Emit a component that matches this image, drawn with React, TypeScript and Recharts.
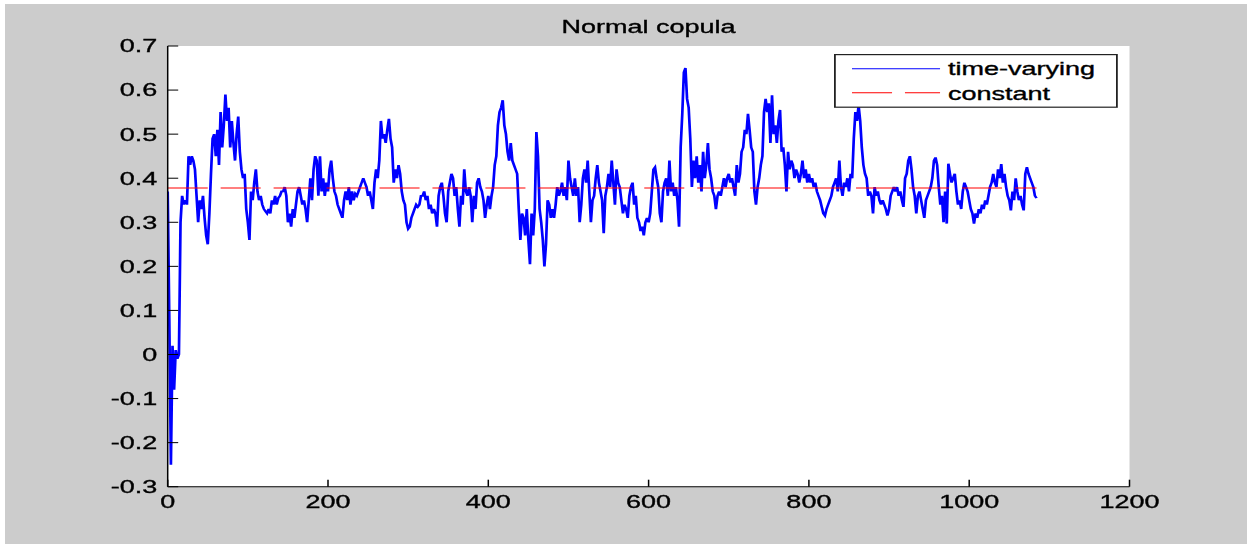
import React from 'react';
import { LineChart, Line, XAxis, YAxis, Legend } from 'recharts';

const title = 'Normal copula';
const seriesNames = ['time-varying', 'constant'];
const xTicks = [0, 200, 400, 600, 800, 1000, 1200];
const yTicks = [-0.3, -0.2, -0.1, 0, 0.1, 0.2, 0.3, 0.4, 0.5, 0.6, 0.7];
const yTickLabels = ['-0.3', '-0.2', '-0.1', '0', '0.1', '0.2', '0.3', '0.4', '0.5', '0.6', '0.7'];
const constantValue = 0.378;
const SAMPLE_STEP = 2;

const tvPart1 = [
  0.37, 0.08, -0.25, 0.02, -0.08, 0.01, -0.01, 0.0, 0.30, 0.36,
  0.34, 0.35, 0.34, 0.45, 0.43, 0.45, 0.44, 0.42, 0.36, 0.30,
  0.35, 0.33, 0.36, 0.31, 0.27, 0.25, 0.32, 0.41, 0.49, 0.50,
  0.45, 0.51, 0.43, 0.55, 0.47, 0.52, 0.59, 0.53, 0.56, 0.47,
  0.53, 0.48, 0.44, 0.50, 0.54, 0.46, 0.42, 0.40, 0.41, 0.33,
  0.30, 0.26, 0.37, 0.35, 0.39, 0.42, 0.37, 0.35, 0.36, 0.34,
  0.33, 0.325, 0.32, 0.33, 0.32, 0.35, 0.34, 0.36, 0.34, 0.355,
  0.36, 0.37, 0.37, 0.38, 0.36, 0.30, 0.32, 0.29, 0.33, 0.31,
  0.34, 0.37, 0.38, 0.36, 0.34, 0.35, 0.33, 0.30, 0.35, 0.40,
  0.35, 0.42, 0.45, 0.44, 0.36, 0.45,
];
const tvPart2 = [
  0.37, 0.40, 0.36, 0.39, 0.37, 0.42, 0.44, 0.40, 0.37, 0.36,
  0.34, 0.33, 0.32, 0.31, 0.35, 0.37, 0.35, 0.38, 0.34, 0.37,
  0.35, 0.365, 0.36, 0.37, 0.38, 0.39, 0.40, 0.39, 0.38, 0.36,
  0.37, 0.35, 0.33, 0.39, 0.42, 0.40, 0.44, 0.53, 0.49, 0.50,
  0.48, 0.51, 0.535, 0.49, 0.47, 0.39, 0.42, 0.40, 0.43, 0.41,
  0.37, 0.35, 0.34, 0.30, 0.285, 0.29, 0.31, 0.32, 0.33, 0.34,
  0.335, 0.34, 0.36, 0.36, 0.37, 0.35, 0.36, 0.33, 0.34,
  0.32, 0.33, 0.32, 0.29, 0.36, 0.38, 0.39, 0.36, 0.32, 0.30,
  0.37, 0.39, 0.41, 0.40, 0.36, 0.38, 0.33, 0.29, 0.36, 0.34,
  0.42, 0.37, 0.36, 0.38,
];
const tvPart3 = [
  0.36, 0.30, 0.36, 0.33, 0.39, 0.40, 0.38, 0.37, 0.35, 0.31,
  0.34, 0.36, 0.33, 0.36, 0.38, 0.43, 0.45, 0.52, 0.55, 0.56,
  0.577, 0.52, 0.50, 0.46, 0.44, 0.48, 0.44, 0.43, 0.42, 0.41,
  0.33, 0.26, 0.32, 0.31, 0.27, 0.33, 0.26, 0.205, 0.32, 0.27,
  0.33, 0.505, 0.45, 0.33, 0.30, 0.26, 0.20, 0.25, 0.35, 0.34,
  0.31, 0.33, 0.31, 0.34, 0.38, 0.36, 0.37, 0.39, 0.36, 0.38,
  0.35, 0.44, 0.40, 0.38, 0.36, 0.40, 0.36, 0.38, 0.30, 0.34,
  0.40, 0.42, 0.39, 0.44, 0.37, 0.30, 0.35, 0.36, 0.40, 0.43,
  0.39, 0.37, 0.35, 0.275, 0.36, 0.38, 0.41, 0.38, 0.44, 0.39,
  0.34, 0.42, 0.39, 0.38,
];
const tvPart4 = [
  0.35, 0.32, 0.34, 0.33, 0.31, 0.36, 0.38, 0.39, 0.34, 0.36,
  0.31, 0.30, 0.28, 0.29, 0.27, 0.30, 0.31, 0.30, 0.32, 0.37,
  0.42, 0.425, 0.40, 0.38, 0.32, 0.30, 0.37, 0.39, 0.40, 0.36,
  0.44, 0.37, 0.39, 0.36, 0.38, 0.35, 0.29, 0.47, 0.545, 0.64,
  0.65, 0.58, 0.56, 0.49, 0.38, 0.44, 0.40, 0.45, 0.39, 0.43,
  0.37, 0.46, 0.40, 0.43, 0.48, 0.42, 0.40, 0.37, 0.36, 0.33,
  0.36, 0.37, 0.36, 0.38, 0.40, 0.38, 0.40, 0.41, 0.39,
  0.40, 0.38, 0.36, 0.43, 0.39, 0.41, 0.46, 0.47, 0.51, 0.50,
  0.546, 0.51, 0.47, 0.46, 0.37, 0.34, 0.38, 0.40, 0.43, 0.45,
  0.55, 0.58, 0.55, 0.57,
];
const tvPart5 = [
  0.48, 0.588, 0.50, 0.52, 0.48, 0.53, 0.555, 0.46, 0.47, 0.43,
  0.37, 0.46, 0.42, 0.44, 0.43, 0.40, 0.42, 0.41, 0.39, 0.41,
  0.44, 0.40, 0.42, 0.39, 0.41, 0.39, 0.40, 0.38, 0.39, 0.37,
  0.36, 0.35, 0.335, 0.32, 0.315, 0.33, 0.34, 0.35, 0.36, 0.38,
  0.39, 0.40, 0.37, 0.44, 0.38, 0.36, 0.39, 0.38, 0.40, 0.37,
  0.41, 0.40, 0.49, 0.55, 0.53, 0.565, 0.53, 0.47, 0.43, 0.41,
  0.40, 0.36, 0.37, 0.36, 0.32, 0.38, 0.36, 0.37, 0.35, 0.34,
  0.35, 0.34, 0.33, 0.315, 0.33, 0.36, 0.37, 0.38, 0.37, 0.38,
  0.36, 0.37, 0.35, 0.335, 0.40, 0.41, 0.44, 0.45, 0.42, 0.38,
  0.36, 0.32, 0.36, 0.37,
];
const tvPart6 = [
  0.35, 0.33, 0.31, 0.35, 0.36, 0.37, 0.38, 0.40, 0.44, 0.447,
  0.43, 0.38, 0.34, 0.36, 0.30, 0.37, 0.297, 0.433, 0.41, 0.39,
  0.40, 0.41, 0.37, 0.34, 0.35, 0.33, 0.37, 0.39, 0.38,
  0.37, 0.35, 0.33, 0.32, 0.297, 0.32, 0.31, 0.33, 0.32, 0.34,
  0.33, 0.35, 0.34, 0.36, 0.38, 0.39, 0.41, 0.39, 0.38, 0.42,
  0.40, 0.432, 0.39, 0.41, 0.38, 0.36, 0.35, 0.327, 0.37, 0.35,
  0.40, 0.37, 0.35, 0.36, 0.34, 0.327, 0.41, 0.425, 0.41, 0.40,
  0.39, 0.38, 0.36, 0.355,
];

const timeVarying = [...tvPart1, ...tvPart2, ...tvPart3, ...tvPart4, ...tvPart5, ...tvPart6];

const data = timeVarying.map((v, i) => ({
  t: i * SAMPLE_STEP,
  tv: v,
  c: constantValue,
}));

const FONT = '"Liberation Sans", Arial, Helvetica, sans-serif';
const SX = 1.5; // the reference image is horizontally stretched
const W = 832;
const H = 544;
const PLOT_LEFT = 111.8;
const PLOT_RIGHT = 753;
const PLOT_TOP = 46;
const PLOT_BOTTOM = 486.7;
const TEXT_STROKE = 0.35;

const fmtY = (v: number) => {
  const idx = yTicks.findIndex((t) => Math.abs(t - v) < 1e-9);
  return idx >= 0 ? yTickLabels[idx] : String(v);
};

const renderLegend = () => (
  <svg width={190} height={55} style={{ display: 'block', overflow: 'visible' }}>
    <rect x={0.6} y={0.6} width={188} height={52.6} fill="#fff" stroke="#222" strokeWidth={1.2} />
    <line x1={12} x2={70.7} y1={14.7} y2={14.7} stroke="#0000ff" strokeWidth={1} />
    <text x={76} y={21.4} fontSize={18} fill="#000" stroke="#000" strokeWidth={TEXT_STROKE} fontFamily={FONT}>
      {seriesNames[0]}
    </text>
    <line x1={12} x2={70.7} y1={38.7} y2={38.7} stroke="#ff0000" strokeWidth={1} strokeDasharray="26.7 8.6" />
    <text x={76} y={45.7} fontSize={18} fill="#000" stroke="#000" strokeWidth={TEXT_STROKE} fontFamily={FONT}>
      {seriesNames[1]}
    </text>
  </svg>
);

export default function App() {
  const tickStyle = { fontSize: 18, fill: '#000', stroke: '#000', strokeWidth: TEXT_STROKE, fontFamily: FONT };
  return (
    <div
      style={{
        position: 'absolute',
        left: 0,
        top: 0,
        width: 1247,
        height: 544,
        background: '#ffffff',
        overflow: 'hidden',
      }}
    >
      <div style={{ position: 'absolute', left: 5, top: 4, right: 0, bottom: 0, background: '#cccccc' }} />
      <div
        style={{
          position: 'absolute',
          left: 0,
          top: 0,
          width: W,
          height: H,
          transform: `scaleX(${SX})`,
          transformOrigin: '0 0',
          fontFamily: FONT,
        }}
      >
        <div
          style={{
            position: 'absolute',
            left: PLOT_LEFT,
            top: PLOT_TOP,
            width: PLOT_RIGHT - PLOT_LEFT,
            height: PLOT_BOTTOM - PLOT_TOP,
            background: '#ffffff',
          }}
        />
        <div
          style={{
            position: 'absolute',
            left: (PLOT_LEFT + PLOT_RIGHT) / 2 - 200,
            top: 18,
            width: 400,
            textAlign: 'center',
            fontSize: 18,
            lineHeight: '18px',
            color: '#000',
            fontFamily: FONT,
            WebkitTextStroke: `${TEXT_STROKE}px #000`,
          }}
        >
          {title}
        </div>
        <LineChart
          width={W}
          height={H}
          data={data}
          margin={{ top: PLOT_TOP, right: W - PLOT_RIGHT, bottom: H - PLOT_BOTTOM - 30, left: PLOT_LEFT - 60 }}
          style={{ position: 'absolute', left: 0, top: 0 }}
        >
          <XAxis
            dataKey="t"
            type="number"
            domain={[0, 1200]}
            ticks={xTicks}
            interval={0}
            tickSize={-7}
            tickMargin={16}
            height={30}
            stroke="#000"
            tick={tickStyle}
            allowDataOverflow
          />
          <XAxis
            xAxisId="top"
            orientation="top"
            dataKey="t"
            type="number"
            domain={[0, 1200]}
            ticks={xTicks}
            interval={0}
            tickSize={-7}
            tick={false}
            height={0}
            stroke="#000"
            allowDataOverflow
          />
          <YAxis
            type="number"
            domain={[-0.3, 0.7]}
            ticks={yTicks}
            interval={0}
            tickSize={-7}
            tickMargin={14}
            width={60}
            stroke="#000"
            tick={tickStyle}
            tickFormatter={fmtY}
            allowDataOverflow
          />
          <YAxis
            yAxisId="right"
            orientation="right"
            type="number"
            domain={[-0.3, 0.7]}
            ticks={yTicks}
            interval={0}
            tickSize={-7}
            tick={false}
            width={0}
            stroke="#000"
            allowDataOverflow
          />
          <Legend
            layout="horizontal"
            align="center"
            verticalAlign="middle"
            content={renderLegend}
            wrapperStyle={{ left: 556, top: 54.3, width: 190, height: 55 }}
          />
          <Line
            dataKey="tv"
            name={seriesNames[0]}
            type="linear"
            stroke="#0000ff"
            strokeWidth={1.8}
            dot={false}
            activeDot={false}
            isAnimationActive={false}
          />
          <Line
            dataKey="c"
            name={seriesNames[1]}
            type="linear"
            stroke="#ff0000"
            strokeWidth={1}
            strokeDasharray="26.7 8.6"
            dot={false}
            activeDot={false}
            isAnimationActive={false}
          />
        </LineChart>
      </div>
    </div>
  );
}
